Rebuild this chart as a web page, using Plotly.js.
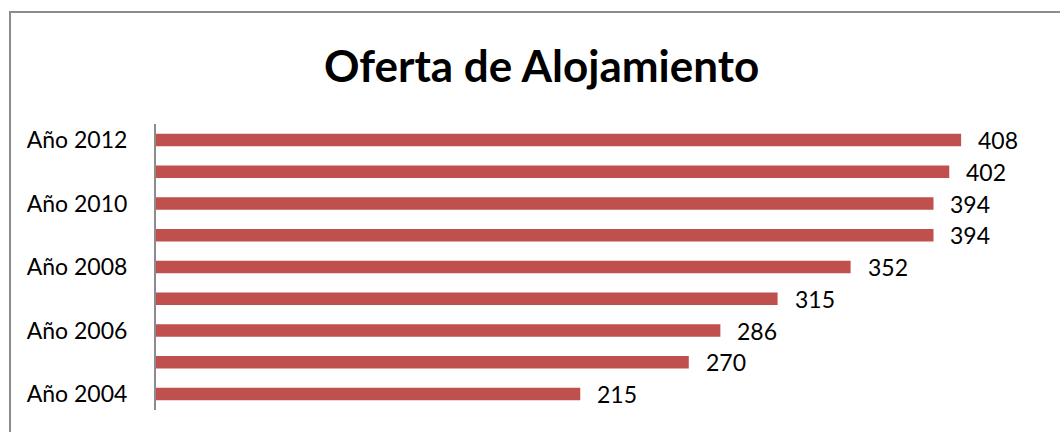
<!DOCTYPE html>
<html>
<head>
<meta charset="utf-8">
<script src="https://cdn.plot.ly/plotly-3.0.1.min.js"></script>
<style>
html,body{margin:0;padding:0;background:#fff;overflow:hidden;}
#frame{position:absolute;left:9px;top:11px;width:1100px;height:500px;border:2px solid #8c8c8c;box-sizing:border-box;pointer-events:none;z-index:2;}
#chart{position:absolute;left:0;top:0;width:1060px;height:432px;}
</style>
</head>
<body>
<div id="chart"></div>
<div id="frame"></div>
<script>
var categories = ['Año 2004','Año 2005','Año 2006','Año 2007','Año 2008','Año 2009','Año 2010','Año 2011','Año 2012'];
var values = [215, 270, 286, 315, 352, 394, 394, 402, 408];
var tickLabels = ['Año 2004','Año 2006','Año 2008','Año 2010','Año 2012'];

var font = 'Lato, "Open Sans", sans-serif';
var trace = {
  type: 'bar',
  orientation: 'h',
  x: values,
  y: categories,
  marker: {color: '#C0504D'},
  hoverinfo: 'none'
};
var annotations = values.map(function(v, i){
  return {x: v, y: categories[i], xref: 'x', yref: 'y', text: String(v),
    showarrow: false, xanchor: 'left', yanchor: 'middle', xshift: 15,
    font: {family: font, size: 23, color: '#000'}};
});
var layout = {
  width: 1060, height: 432,
  margin: {l: 156, r: 16, t: 124, b: 22},
  paper_bgcolor: '#fff', plot_bgcolor: '#fff',
  bargap: 0.6,
  showlegend: false,
  annotations: annotations,
  title: {text: '<b>Oferta de Alojamiento</b>', font: {family: font, size: 44, color: '#000'}, x: 0.511, xanchor: 'center', y: 0.845, yanchor: 'middle', xref: 'container', yref: 'container'},
  xaxis: {range: [0, 450], visible: false, showgrid: false, zeroline: false},
  yaxis: {type: 'category', categoryorder: 'array', categoryarray: categories,
    tickvals: tickLabels, ticktext: tickLabels,
    showline: true, linecolor: '#8c8c8c', linewidth: 2, ticks: '',
    ticklabelstandoff: 22,
    tickfont: {family: font, size: 23, color: '#000'}, showgrid: false, zeroline: false}
};
Plotly.newPlot('chart', [trace], layout, {displayModeBar: false, staticPlot: true});
</script>
</body>
</html>
